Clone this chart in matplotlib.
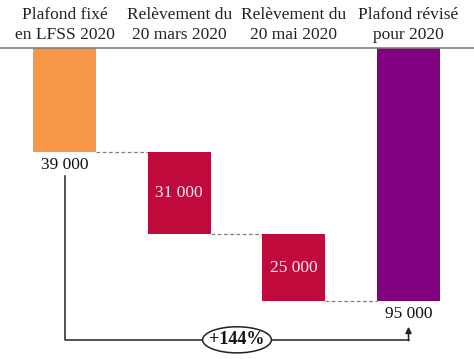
import numpy as np
import matplotlib
matplotlib.use('Agg')
import matplotlib.pyplot as plt
from matplotlib.patches import Ellipse

# données (en milliers d'euros)
etapes = ["Plafond fixé\nen LFSS 2020", "Relèvement du\n20 mars 2020",
          "Relèvement du\n20 mai 2020", "Plafond révisé\npour 2020"]
montants = [39, 31, 25, 95]
etiquettes = ["39 000", "31 000", "25 000", "95 000"]
hausse = "+144%"
couleurs = ["#F79646", "#C00A3C", "#C00A3C", "#800080"]

plt.rcParams['font.family'] = ['Liberation Serif', 'DejaVu Serif']

# bases du waterfall
bases = [0, montants[0], montants[0] + montants[1], 0]

fig = plt.figure(figsize=(4.74, 3.59), dpi=100)
ax = fig.add_axes([0, 0, 1, 1])
ax.set_xlim(-0.5625, 3.571)
ax.set_ylim(116.8, -18.0)
ax.axis('off')

x = np.arange(len(etapes))
w = 0.55
ax.bar(x, montants, bottom=bases, width=w, color=couleurs, zorder=2)

# ligne du haut
ax.axhline(0, color='#7f7f7f', lw=1.2, zorder=3)

# titres des colonnes
for i, t in enumerate(etapes):
    ax.text(x[i], -8.6, t, ha='center', va='center', fontsize=12.5,
            linespacing=1.3, color='#222222')

# connecteurs en pointillés
for i in range(3):
    y = bases[i] + montants[i]
    ax.plot([x[i] + w / 2, x[i + 1] - w / 2], [y, y], ls=(0, (3, 2)),
            color='#808080', lw=0.9, zorder=1)

# étiquettes
ax.text(x[0], montants[0] + 5.0, etiquettes[0], ha='center', va='center',
        fontsize=12.5, color='#111111')
for i in (1, 2):
    ax.text(x[i], bases[i] + montants[i] / 2, etiquettes[i], ha='center',
            va='center', fontsize=12.5, color='#FFE8EE')
ax.text(x[3], montants[3] + 5.0, etiquettes[3], ha='center', va='center',
        fontsize=12.5, color='#111111')

# flèche de variation
y_bas = 109.6
ax.plot([x[0], x[0], x[3]], [48, y_bas, y_bas], color='#222222', lw=1.1,
        zorder=3)
ax.annotate("", xy=(x[3], 104.7), xytext=(x[3], y_bas + 0.3),
            arrowprops=dict(arrowstyle='-|>', color='#222222', lw=1.1,
                            mutation_scale=9, shrinkA=0, shrinkB=0))
xc = (237 - 64.5) / 114.67
ax.add_patch(Ellipse((xc, y_bas), 0.6, 9.8, facecolor='white',
                     edgecolor='#222222', lw=1.1, zorder=4))
ax.text(xc, y_bas, hausse, ha='center', va='center', fontsize=13,
        fontweight='bold', color='#111111', zorder=5)

fig.savefig("out.png", dpi=100)
